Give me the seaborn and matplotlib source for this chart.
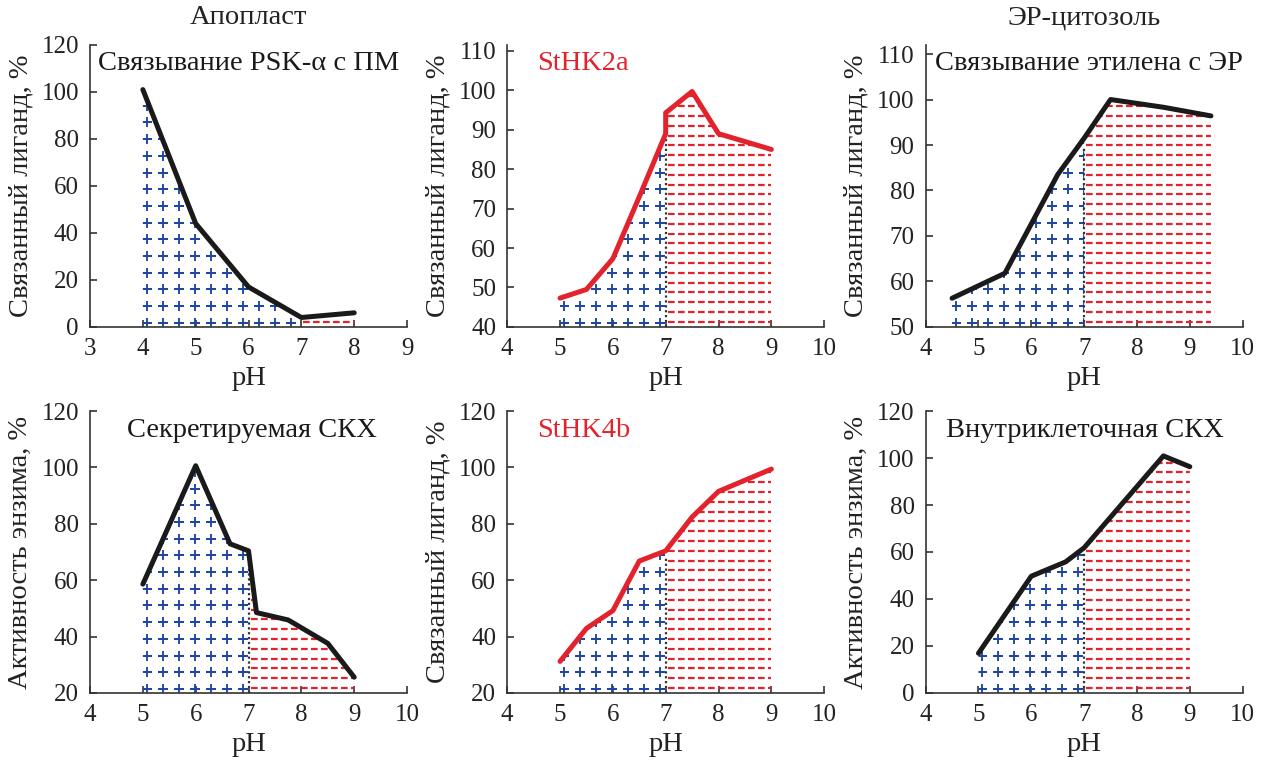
import numpy as np
import matplotlib
matplotlib.use("Agg")
import matplotlib.pyplot as plt
from matplotlib.patches import Polygon
import seaborn as sns

sns.set_theme(style="ticks")
plt.rcParams['font.family'] = ['Liberation Serif', 'DejaVu Serif']

# ---------------- data ----------------
ph_psk = [4, 5, 6, 7, 8]
val_psk = [101, 44, 17, 4, 6]

ph_hk2a = [5, 5.5, 6, 6.5, 7, 7, 7.5, 8, 9]
val_hk2a = [47.3, 49.5, 57.3, 73, 89, 94.3, 99.7, 89, 85]

ph_eth = [4.5, 5.5, 6.5, 7, 7.5, 8.5, 9.4]
val_eth = [56.3, 61.8, 83.5, 91.5, 100, 98.3, 96.4]

ph_sckx = [5, 6, 6.65, 7, 7.15, 7.75, 8.5, 9]
val_sckx = [58.6, 100.6, 72.9, 70.4, 48.5, 45.9, 37.6, 25.6]

ph_hk4b = [5, 5.5, 6, 6.5, 7, 7.5, 8, 9]
val_hk4b = [31.2, 42.9, 49.2, 66.8, 70.4, 82.4, 91.5, 99.4]

ph_ickx = [5, 6, 6.65, 7, 8.5, 9]
val_ickx = [16.9, 49.7, 55.8, 61.8, 100.9, 96.3]

col_titles = ["Апопласт", "ЭР-цитозоль"]
panel_titles = ["Связывание PSK-α с ПМ", "StHK2a", "Связывание этилена с ЭР",
                "Секретируемая СКХ", "StHK4b", "Внутриклеточная СКХ"]
ylabels = ["Связанный лиганд, %", "Связанный лиганд, %", "Связанный лиганд, %",
           "Активность энзима, %", "Связанный лиганд, %", "Активность энзима, %"]
xlabel = "pH"

RED = "#e3222b"
BLUE = "#1f45a6"
BLACK = "#1a1a1a"
AX = "#333333"
TXT = "#222222"

panels = [
    dict(x=ph_psk, y=val_psk, color=BLACK, xlim=(3, 9), ylim=(0, 120), yticks=range(0, 121, 20), title_pos=(0.025, 0.935), tcolor=BLACK),
    dict(x=ph_hk2a, y=val_hk2a, color=RED, xlim=(4, 10), ylim=(40, 111.5), yticks=range(40, 111, 10), title_pos=(0.095, 0.935), tcolor=RED),
    dict(x=ph_eth, y=val_eth, color=BLACK, xlim=(4, 10), ylim=(50, 112), yticks=range(50, 111, 10), title_pos=(0.03, 0.935), tcolor=BLACK),
    dict(x=ph_sckx, y=val_sckx, color=BLACK, xlim=(4, 10), ylim=(20, 120), yticks=range(20, 121, 20), title_pos=(0.117, 0.93), tcolor=BLACK),
    dict(x=ph_hk4b, y=val_hk4b, color=RED, xlim=(4, 10), ylim=(20, 120), yticks=range(20, 121, 20), title_pos=(0.095, 0.93), tcolor=RED),
    dict(x=ph_ickx, y=val_ickx, color=BLACK, xlim=(4, 10), ylim=(0, 120), yticks=range(0, 121, 20), title_pos=(0.063, 0.93), tcolor=BLACK),
]

W, H = 1268, 762
fig = plt.figure(figsize=(W / 100, H / 100), dpi=100)
lefts = [0.071, 0.400, 0.730]
bottoms = [0.571, 0.0906]
aw, ah = 0.250, 0.370

FS_TICK = 18
FS_LAB = 20.5
FS_TITLE = 20.5
for i, p in enumerate(panels):
    r, c = divmod(i, 3)
    ax = fig.add_axes([lefts[c], bottoms[r], aw, ah])
    x = np.array(p["x"], float)
    y = np.array(p["y"], float)
    x0, x1 = p["xlim"]
    y0, y1 = p["ylim"]
    ax.set_xlim(x0, x1)
    ax.set_ylim(y0, y1)
    pxx = aw * W / (x1 - x0)   # pixels per x unit
    pxy = ah * H / (y1 - y0)   # pixels per y unit

    # blue "+" region (pH <= 7)
    m = x <= 7
    vb = np.vstack([np.column_stack([x[m], y[m]]), [[x[m][-1], y0], [x[m][0], y0]]])
    pb = Polygon(vb, closed=True, facecolor="none", edgecolor="none", transform=ax.transData)
    ax.add_patch(pb)
    gx = np.arange(x[m][0] + 4 / pxx, x[m][-1], 16 / pxx)
    gy = np.arange(y0 + 4 / pxy, y1, 16.7 / pxy)
    GX, GY = np.meshgrid(gx, gy)
    sc = ax.scatter(GX.ravel(), GY.ravel(), marker="+", s=58, color=BLUE, linewidths=1.35, zorder=2)
    sc.set_clip_path(pb)

    # red dashed region (pH >= 7)
    m2 = x >= 7
    vr = np.vstack([np.column_stack([x[m2], y[m2]]), [[x[m2][-1], y0], [x[m2][0], y0]]])
    pr = Polygon(vr, closed=True, facecolor="none", edgecolor="none", transform=ax.transData)
    ax.add_patch(pr)
    hy = np.arange(y0 + 5 / pxy, y1, 9.8 / pxy)
    lc = ax.hlines(hy, x[m2][0] + 2 / pxx, x[m2][-1], colors=RED, linewidth=1.6,
                   linestyles=(0, (3.0, 1.5)), zorder=2)
    lc.set_clip_path(pr)

    # dotted divider at pH 7
    yv = y[m][-1]
    if i > 0:
        ax.vlines(7, y0, yv - 2, colors=AX, linestyles=(0, (1, 1.2)), linewidth=1.6, zorder=3)

    sns.lineplot(x=x, y=y, ax=ax, color=p["color"], linewidth=3.6, sort=False,
                 estimator=None, zorder=4)

    ax.set_xticks(range(int(x0), int(x1) + 1))
    ax.set_yticks(list(p["yticks"]))
    ax.tick_params(direction="in", length=5, width=1.2, color=AX, labelsize=FS_TICK,
                   labelcolor=TXT, pad=8)
    for s in ["top", "right"]:
        ax.spines[s].set_visible(False)
    for s in ["left", "bottom"]:
        ax.spines[s].set_color(AX)
        ax.spines[s].set_linewidth(1.2)
    ax.set_xlabel(xlabel, fontsize=FS_LAB, color=TXT, labelpad=4)
    ax.set_ylabel(ylabels[i], fontsize=FS_LAB, color=TXT, labelpad=6)
    ax.text(p["title_pos"][0], p["title_pos"][1], panel_titles[i], transform=ax.transAxes,
            fontsize=FS_TITLE, color=p["tcolor"], ha="left", va="center", zorder=5)

fig.text(lefts[0] + aw / 2, 1 - 18 / H, col_titles[0], ha="center", va="center", fontsize=FS_LAB, color=TXT)
fig.text(lefts[2] + aw / 2, 1 - 18 / H, col_titles[1], ha="center", va="center", fontsize=FS_LAB, color=TXT)

fig.savefig("out.png", dpi=100)
